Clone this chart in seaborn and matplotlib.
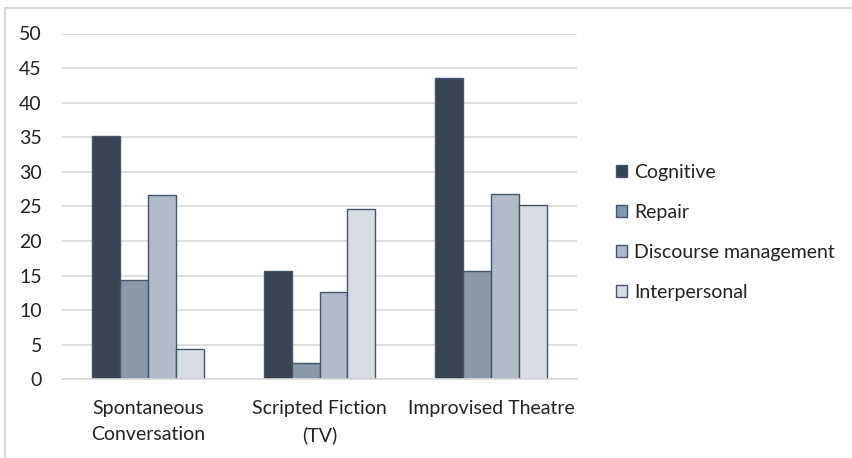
import numpy as np
import pandas as pd
import seaborn as sns
import matplotlib.pyplot as plt
from matplotlib.patches import Rectangle, Patch

# values
categories = ['Spontaneous\nConversation', 'Scripted Fiction\n(TV)', 'Improvised Theatre']
functions = ['Cognitive', 'Repair', 'Discourse management', 'Interpersonal']
cognitive = [35.2, 15.7, 43.5]
repair = [14.4, 2.3, 15.7]
discourse = [26.6, 12.6, 26.8]
interpersonal = [4.4, 24.6, 25.2]
colors = ['#364256', '#8497B0', '#ADB9CA', '#D6DCE5']

data = pd.DataFrame({
    'category': categories * 4,
    'function': np.repeat(functions, 3),
    'value': cognitive + repair + discourse + interpersonal,
})

sns.set_style('white')
plt.rcParams['font.family'] = ['Lato', 'DejaVu Sans']

fig = plt.figure(figsize=(8.52, 4.58), dpi=100)
ax = fig.add_axes([62 / 852, 1 - 379.3 / 458, (577 - 62) / 852, (379.3 - 33.5) / 458])

sns.barplot(data=data, x='category', y='value', hue='function', hue_order=functions,
            palette=colors, width=0.65, ax=ax, edgecolor='#44546A', linewidth=1.0,
            legend=False)

ax.set_ylim(0, 50)
ax.set_yticks(range(0, 51, 5))
ax.set_xlim(-0.5, 2.5)
ax.grid(axis='y', color='#D9D9D9', linewidth=1.2)
ax.set_axisbelow(True)
for s in ['top', 'right', 'left']:
    ax.spines[s].set_visible(False)
ax.spines['bottom'].set_color('#D9D9D9')
ax.spines['bottom'].set_linewidth(1.2)
ax.tick_params(axis='y', length=0, pad=14.5, labelsize=14, labelcolor='#222222')
ax.tick_params(axis='x', length=0, pad=15, labelsize=14, labelcolor='#222222')
for lbl in ax.get_xticklabels():
    lbl.set_linespacing(1.6)
ax.set_xlabel('')
ax.set_ylabel('')

handles = [Patch(facecolor=c, edgecolor='#44546A', linewidth=1.0) for c in colors]
fig.legend(handles, functions, loc='center left', bbox_to_anchor=(598 / 852, 1 - 232.5 / 458),
           frameon=False, fontsize=14, handlelength=0.6, handleheight=0.6,
           handletextpad=0.35, labelspacing=1.18, labelcolor='#222222')

# light frame around the chart area
fig.patches.append(Rectangle((5 / 852, -0.05), 1.1, 1 - 8 / 458 + 0.05, transform=fig.transFigure,
                             fill=False, edgecolor='#D9D9D9', linewidth=1.5))

fig.savefig('out.png', dpi=100)
